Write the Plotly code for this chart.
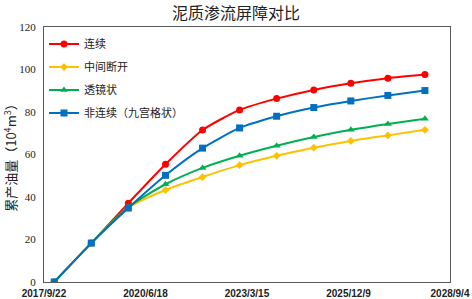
import plotly.graph_objects as go

dates = ["2018-01-01", "2019-01-01", "2020-01-01", "2021-01-01", "2022-01-01", "2023-01-01",
         "2024-01-01", "2025-01-01", "2026-01-01", "2027-01-01", "2028-01-01"]
continuous = [0, 18.3, 37.1, 55.4, 71.5, 81.0, 86.3, 90.4, 93.5, 95.9, 97.6]
middle_break = [0, 18.3, 35.0, 43.3, 49.4, 55.0, 59.4, 63.2, 66.4, 69.0, 71.6]
lens = [0, 18.3, 35.3, 46.0, 53.7, 59.4, 64.1, 68.2, 71.6, 74.4, 76.8]
noncontinuous = [0, 18.3, 34.8, 50.2, 63.0, 72.5, 78.0, 82.1, 85.2, 87.8, 90.1]

series_names = ["连续", "中间断开", "透镜状", "非连续（九宫格状）"]
tick_vals = ["2017-09-22", "2020-06-18", "2023-03-15", "2025-12-09", "2028-09-04"]
tick_text = ["2017/9/22", "2020/6/18", "2023/3/15", "2025/12/9", "2028/9/4"]

colors = ["#FF0000", "#FFC000", "#00B050", "#0070C0"]
symbols = ["circle", "diamond", "triangle-up", "square"]
sizes = [7, 6, 7, 7]

fig = go.Figure()
for i, (name, vals, c, s, sz) in enumerate(zip(series_names, [continuous, middle_break, lens, noncontinuous],
                                               colors, symbols, sizes)):
    fig.add_trace(go.Scatter(
        x=dates, y=vals, name=name, mode="lines+markers", legendgroup=f"g{i}",
        line=dict(color=c, width=2, shape="spline", smoothing=0.6),
        marker=dict(color=c, symbol=s, size=sz),
    ))

fig.update_layout(
    width=472, height=299,
    margin=dict(l=44, r=22, t=27, b=17),
    paper_bgcolor="white", plot_bgcolor="white",
    title=dict(text="泥质渗流屏障对比", x=0.5, xref="container", xanchor="center",
               y=0.955, yanchor="middle",
               font=dict(family="Noto Sans CJK SC", size=16, color="#222222")),
    font=dict(family="Noto Sans CJK SC", size=11, color="#222222"),
    legend=dict(x=0.0, y=0.99, xanchor="left", yanchor="top", tracegroupgap=4,
                bgcolor="rgba(0,0,0,0)", font=dict(family="Noto Sans CJK SC", size=11),
                itemwidth=30),
    showlegend=True,
)
fig.update_xaxes(
    type="date", range=["2017-09-22", "2028-09-04"], automargin=False,
    tickvals=tick_vals, ticktext=tick_text, tickangle=0, ticklabelstandoff=2,
    tickfont=dict(family="Liberation Sans", size=10, color="#222222", weight="bold"),
    showgrid=False, zeroline=False, showline=True, linecolor="#595959", linewidth=1,
    mirror=True, ticks="",
)
fig.update_yaxes(
    range=[0, 120], dtick=20, ticklabelstandoff=5, automargin=False,
    tickfont=dict(family="Liberation Serif", size=11, color="#222222"),
    showgrid=False, zeroline=False, showline=True, linecolor="#595959", linewidth=1,
    mirror=True, ticks="",
    title=dict(text="累产油量（10<sup>4</sup>m<sup>3</sup>）", standoff=6,
               font=dict(family="Noto Sans CJK SC", size=13, color="#222222")),
)

fig.write_html("out.html", config={"displayModeBar": False},
               post_script="document.body.style.margin='0';document.body.style.overflow='hidden';")
